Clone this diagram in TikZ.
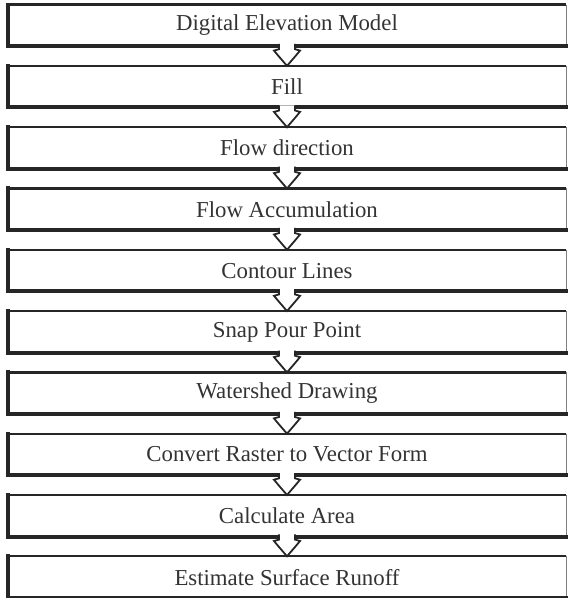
\documentclass[tikz,border=0pt]{standalone}
\usepackage{fontspec}
\setmainfont{Liberation Serif}
\usetikzlibrary{positioning}

\begin{document}
\begin{tikzpicture}[x=0.5pt, y=-0.5pt, node distance=9.85pt,
    stepbox/.style={rectangle, minimum width=279pt, minimum height=20.4pt,
        inner sep=0pt, text=black!80, font=\fontsize{11.4}{14}\selectfont},
    blockarrow/.style={fill=white, draw=black!85, line width=0.9pt, line join=miter}]
    \useasboundingbox (0,0) rectangle (567,598);

    % Place the steps of the workflow
    \node[stepbox] (b1) at (287,25.4) {Digital Elevation Model};
    \foreach \txt [count=\i from 2, remember=\i as \j (initially 1)] in
        {Fill, Flow direction, Flow Accumulation, Contour Lines, Snap Pour Point,
         Watershed Drawing, Convert Raster to Vector Form, Calculate Area,
         Estimate Surface Runoff}
        \node[stepbox, below=of b\j] (b\i) {\txt};

    % Draw the box borders, heavy on the left and bottom
    \foreach \i in {1,...,10} {
        \draw[black!85, line width=1.1pt] (b\i.north west) -- (b\i.north east);
        \draw[black!50, line width=0.6pt] (b\i.north east) -- (b\i.south east);
        \draw[black!85, line width=2pt, line cap=rect]
            (b\i.north west) -- (b\i.south west) -- (b\i.south east);
    }

    % Draw the block arrows between the steps
    \foreach \i [count=\k from 2] in {1,...,9}
        \filldraw[blockarrow]
            ([xshift=-4pt, yshift=1.1pt]b\i.south) -- ++(0,-2.6pt)
            -- ++(-2.5pt,-0.7pt) -- ++(1.9pt,-2.3pt) -- (b\k.north)
            -- ([xshift=4.6pt, yshift=-4.5pt]b\i.south)
            -- ++(1.9pt,2.3pt) -- ++(-2.5pt,0.7pt) -- ++(0,2.6pt);
\end{tikzpicture}
\end{document}
